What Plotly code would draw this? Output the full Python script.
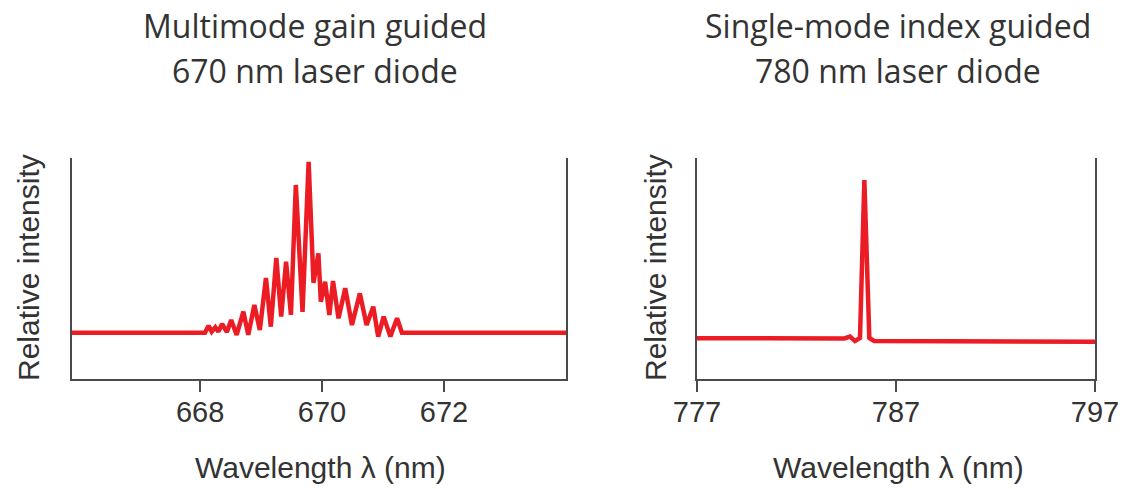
import plotly.graph_objects as go

# ---- Data ----
# Left panel: multimode gain-guided 670 nm laser diode
mm_wavelength = [665.9, 668.08, 668.14, 668.19, 668.25, 668.30, 668.36, 668.44, 668.51,
                 668.60, 668.71, 668.79, 668.89, 668.98, 669.08, 669.16, 669.25, 669.33,
                 669.41, 669.49, 669.57, 669.68, 669.78, 669.86, 669.94, 669.98, 670.05,
                 670.12, 670.18, 670.27, 670.38, 670.49, 670.62, 670.73, 670.84, 670.92,
                 671.01, 671.12, 671.23, 671.31, 674.0]
mm_intensity = [0.0, 0.0, 0.04, 0.006, 0.032, 0.006, 0.051, 0.004, 0.074,
                -0.013, 0.123, -0.013, 0.162, 0.016, 0.32, 0.035, 0.437, 0.094,
                0.415, 0.104, 0.864, 0.121, 1.0, 0.291, 0.464, 0.181, 0.298,
                0.104, 0.302, 0.084, 0.26, 0.045, 0.23, 0.045, 0.152, -0.023,
                0.094, -0.023, 0.084, 0.0, 0.0]

# Right panel: single-mode index-guided 780 nm laser diode
sm_wavelength = [777.0, 784.4, 784.69, 784.94, 785.19, 785.41, 785.66, 785.9, 797.0]
sm_intensity = [0.008, 0.006, 0.018, -0.01, 0.009, 1.0, 0.009, -0.009, -0.014]

mm_ticks = [668, 670, 672]
sm_ticks = [777, 787, 797]

titles_left = ["Multimode gain guided", "670 nm laser diode"]
titles_right = ["Single-mode index guided", "780 nm laser diode"]
y_title = "Relative intensity"
x_title = "Wavelength λ (nm)"

# ---- Layout geometry ----
W, H = 1126, 489
RED = "#ec1c24"
AX = "#4a4a4a"
TXT = "#333333"
HELV = "Liberation Sans, Arial, sans-serif"
MYR = "Open Sans, Noto Sans, sans-serif"

def px(x):
    return x / W

def py(y):
    return 1 - y / H

fig = go.Figure()
fig.add_trace(go.Scatter(x=mm_wavelength, y=mm_intensity, mode="lines",
                         line=dict(color=RED, width=4.5), xaxis="x", yaxis="y",
                         showlegend=False, hoverinfo="skip"))
fig.add_trace(go.Scatter(x=sm_wavelength, y=sm_intensity, mode="lines",
                         line=dict(color=RED, width=4.5), xaxis="x2", yaxis="y2",
                         showlegend=False, hoverinfo="skip"))

ydom = [py(379), py(158.3)]
common_x = dict(showline=True, linecolor=AX, linewidth=2, mirror=False,
                ticks="outside", ticklen=11, tickwidth=2, tickcolor=AX,
                showgrid=False, zeroline=False, automargin=False,
                ticklabelstandoff=-5,
                tickfont=dict(family=HELV, size=29, color=TXT))
common_y = dict(showline=True, linecolor=AX, linewidth=2, mirror=True,
                ticks="", showticklabels=False, showgrid=False, zeroline=False,
                automargin=False)

fig.update_layout(
    width=W, height=H,
    margin=dict(l=0, r=0, t=0, b=0, autoexpand=False),
    paper_bgcolor="white", plot_bgcolor="white",
    xaxis=dict(domain=[px(72), px(566)], range=[665.9, 674.0], tickvals=mm_ticks,
               anchor="y", **common_x),
    yaxis=dict(domain=ydom, range=[-0.271, 1.02], anchor="x", **common_y),
    xaxis2=dict(domain=[px(697), px(1095)], range=[777, 797], tickvals=sm_ticks,
                anchor="y2", **common_x),
    yaxis2=dict(domain=ydom, range=[-0.248, 1.136], anchor="x2", **common_y),
)

ann = []
for cx, lines in [(315, titles_left), (898, titles_right)]:
    for i, t in enumerate(lines):
        ann.append(dict(text=t, x=px(cx), y=py(26 + 45 * i), xref="paper", yref="paper",
                        showarrow=False, xanchor="center", yanchor="middle",
                        font=dict(family=MYR, size=32, color=TXT)))
for cx in [28, 655]:
    ann.append(dict(text=y_title, x=px(cx), y=py(268), xref="paper", yref="paper",
                    showarrow=False, xanchor="center", yanchor="middle", textangle=-90,
                    font=dict(family=HELV, size=30, color=TXT)))
for cx in [320, 898]:
    ann.append(dict(text=x_title, x=px(cx), y=py(467), xref="paper", yref="paper",
                    showarrow=False, xanchor="center", yanchor="middle",
                    font=dict(family=HELV, size=30, color=TXT)))
fig.update_layout(annotations=ann)

fig.write_html("out.html")
